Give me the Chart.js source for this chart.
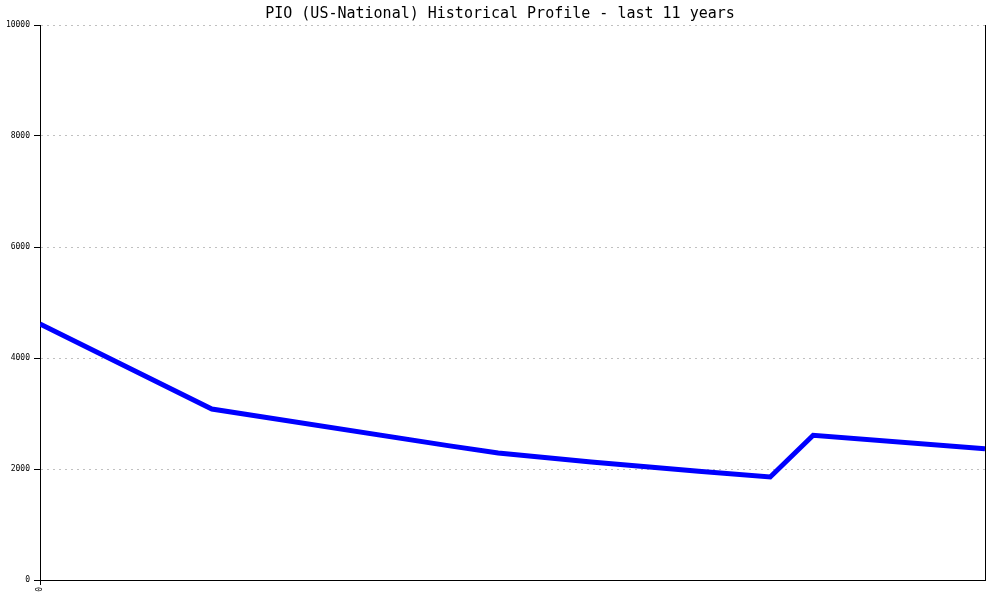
<!DOCTYPE html>
<html>
<head>
<meta charset="utf-8">
<script src="https://cdn.jsdelivr.net/npm/chart.js@4"></script>
<style>
  html, body { margin: 0; padding: 0; background: #ffffff; }
  #wrap { width: 1000px; height: 600px; }
</style>
</head>
<body>
<div id="wrap"><canvas id="pioChart" width="1000" height="600"></canvas></div>
<script>
// months since start of the 11 year window, and the count read at that month
const months = [0, 24, 57, 64, 77, 92, 102, 108, 132];
const counts = [4613, 3081, 2421, 2288, 2126, 1960, 1856, 2607, 2366];
const yTicks = [0, 2000, 4000, 6000, 8000, 10000];
const xTickLabels = ['0'];

const mono = 'DejaVu Sans Mono, monospace';
const points = months.map((m, i) => ({ x: m, y: counts[i] }));

const ctx = document.getElementById('pioChart').getContext('2d');
let pioChart = new Chart(ctx, {
    type: 'line',
    data: {
        datasets: [{
            label: 'PIO',
            data: points,
            borderColor: '#0000ff',
            borderWidth: 5,
            pointRadius: 0,
            tension: 0,
            fill: false
        }]
    },
    options: {
        responsive: false,
        animation: false,
        layout: { padding: 0 },
        scales: {
            x: {
                type: 'linear',
                min: 0,
                max: 132,
                afterBuildTicks: axis => { axis.ticks = xTickLabels.map(t => ({ value: Number(t) })); },
                afterFit: axis => { axis.height = 20; },
                ticks: {
                    color: '#000000',
                    font: { family: mono, size: 8 },
                    minRotation: 90,
                    maxRotation: 90,
                    padding: 2,
                    callback: v => String(v)
                },
                grid: { drawOnChartArea: false, tickLength: 5, tickColor: '#000000' },
                border: { color: '#000000', width: 1 }
            },
            y: {
                min: 0,
                max: 10000,
                afterBuildTicks: axis => { axis.ticks = yTicks.map(v => ({ value: v })); },
                afterFit: axis => { axis.width = 40; },
                ticks: {
                    color: '#000000',
                    font: { family: mono, size: 8 },
                    padding: 4,
                    callback: v => String(v)
                },
                grid: {
                    color: '#c0c0c0',
                    lineWidth: 1,
                    tickLength: 6,
                    tickColor: '#000000',
                    tickBorderDash: []
                },
                border: { color: '#000000', width: 1, dash: [2, 4] }
            },
            y2: {
                position: 'right',
                min: 0,
                max: 10000,
                afterFit: axis => { axis.width = 15; },
                ticks: { display: false },
                grid: { drawOnChartArea: false, tickLength: 0 },
                border: { color: '#000000', width: 1 }
            }
        },
        plugins: {
            legend: { display: false },
            tooltip: { enabled: false },
            title: {
                display: true,
                text: 'PIO (US-National) Historical Profile - last 11 years',
                color: '#000000',
                font: { family: mono, size: 15, weight: 'normal' },
                padding: { top: 5, bottom: 2 }
            }
        }
    }
});
</script>
</body>
</html>
